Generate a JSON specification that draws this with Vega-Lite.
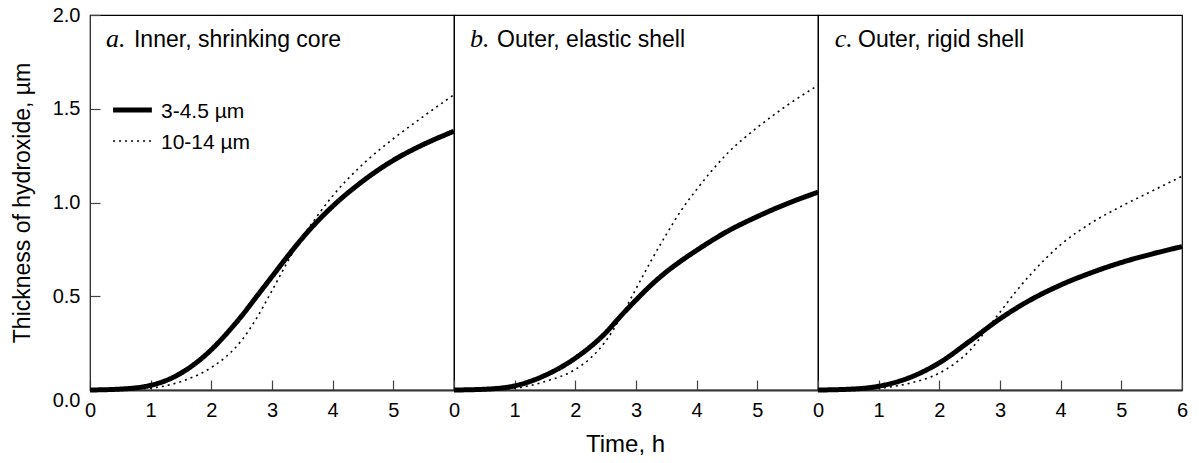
{
  "$schema": "https://vega.github.io/schema/vega-lite/v6.json",
  "padding": {"left": 10, "top": 4, "right": 10, "bottom": 5},
  "background": "white",
  "bounds": "flush",
  "spacing": 0,
  "config": {
    "view": {"stroke": "black", "strokeWidth": 1.2},
    "font": "Liberation Sans",
    "axis": {
      "grid": false,
      "labelFont": "Liberation Sans",
      "labelFontSize": 20,
      "labelColor": "black",
      "titleFont": "Liberation Sans",
      "titleFontSize": 23,
      "titleFontWeight": "normal",
      "titleColor": "black",
      "tickColor": "#444",
      "tickWidth": 1.2,
      "domainColor": "#333",
      "labelOverlap": false,
      "labelFlush": false
    }
  },
  "datasets": {
    "curves": [
      {"panel": "a", "size": "3-4.5 µm", "t": 0, "h": 0},
      {"panel": "a", "size": "3-4.5 µm", "t": 0.5, "h": 0.005},
      {"panel": "a", "size": "3-4.5 µm", "t": 1, "h": 0.025},
      {"panel": "a", "size": "3-4.5 µm", "t": 1.25, "h": 0.05},
      {"panel": "a", "size": "3-4.5 µm", "t": 1.5, "h": 0.09},
      {"panel": "a", "size": "3-4.5 µm", "t": 1.75, "h": 0.145},
      {"panel": "a", "size": "3-4.5 µm", "t": 2, "h": 0.215},
      {"panel": "a", "size": "3-4.5 µm", "t": 2.25, "h": 0.3},
      {"panel": "a", "size": "3-4.5 µm", "t": 2.5, "h": 0.395},
      {"panel": "a", "size": "3-4.5 µm", "t": 2.75, "h": 0.5},
      {"panel": "a", "size": "3-4.5 µm", "t": 3, "h": 0.605},
      {"panel": "a", "size": "3-4.5 µm", "t": 3.25, "h": 0.71},
      {"panel": "a", "size": "3-4.5 µm", "t": 3.5, "h": 0.81},
      {"panel": "a", "size": "3-4.5 µm", "t": 3.75, "h": 0.9},
      {"panel": "a", "size": "3-4.5 µm", "t": 4, "h": 0.98},
      {"panel": "a", "size": "3-4.5 µm", "t": 4.5, "h": 1.115},
      {"panel": "a", "size": "3-4.5 µm", "t": 5, "h": 1.225},
      {"panel": "a", "size": "3-4.5 µm", "t": 5.5, "h": 1.31},
      {"panel": "a", "size": "3-4.5 µm", "t": 6, "h": 1.38},
      {"panel": "a", "size": "10-14 µm", "t": 0, "h": 0},
      {"panel": "a", "size": "10-14 µm", "t": 0.5, "h": 0.002},
      {"panel": "a", "size": "10-14 µm", "t": 1, "h": 0.01},
      {"panel": "a", "size": "10-14 µm", "t": 1.5, "h": 0.045},
      {"panel": "a", "size": "10-14 µm", "t": 2, "h": 0.12},
      {"panel": "a", "size": "10-14 µm", "t": 2.25, "h": 0.18},
      {"panel": "a", "size": "10-14 µm", "t": 2.5, "h": 0.265},
      {"panel": "a", "size": "10-14 µm", "t": 2.75, "h": 0.385},
      {"panel": "a", "size": "10-14 µm", "t": 3, "h": 0.53},
      {"panel": "a", "size": "10-14 µm", "t": 3.25, "h": 0.68},
      {"panel": "a", "size": "10-14 µm", "t": 3.5, "h": 0.815},
      {"panel": "a", "size": "10-14 µm", "t": 3.75, "h": 0.93},
      {"panel": "a", "size": "10-14 µm", "t": 4, "h": 1.035},
      {"panel": "a", "size": "10-14 µm", "t": 4.5, "h": 1.205},
      {"panel": "a", "size": "10-14 µm", "t": 5, "h": 1.34},
      {"panel": "a", "size": "10-14 µm", "t": 5.5, "h": 1.46},
      {"panel": "a", "size": "10-14 µm", "t": 6, "h": 1.575},
      {"panel": "b", "size": "3-4.5 µm", "t": 0, "h": 0},
      {"panel": "b", "size": "3-4.5 µm", "t": 0.5, "h": 0.004},
      {"panel": "b", "size": "3-4.5 µm", "t": 1, "h": 0.022},
      {"panel": "b", "size": "3-4.5 µm", "t": 1.5, "h": 0.078},
      {"panel": "b", "size": "3-4.5 µm", "t": 2, "h": 0.17},
      {"panel": "b", "size": "3-4.5 µm", "t": 2.5, "h": 0.305},
      {"panel": "b", "size": "3-4.5 µm", "t": 2.75, "h": 0.395},
      {"panel": "b", "size": "3-4.5 µm", "t": 3, "h": 0.48},
      {"panel": "b", "size": "3-4.5 µm", "t": 3.25, "h": 0.56},
      {"panel": "b", "size": "3-4.5 µm", "t": 3.5, "h": 0.63},
      {"panel": "b", "size": "3-4.5 µm", "t": 3.75, "h": 0.69},
      {"panel": "b", "size": "3-4.5 µm", "t": 4, "h": 0.745},
      {"panel": "b", "size": "3-4.5 µm", "t": 4.5, "h": 0.845},
      {"panel": "b", "size": "3-4.5 µm", "t": 5, "h": 0.925},
      {"panel": "b", "size": "3-4.5 µm", "t": 5.5, "h": 0.995},
      {"panel": "b", "size": "3-4.5 µm", "t": 6, "h": 1.055},
      {"panel": "b", "size": "10-14 µm", "t": 0, "h": 0},
      {"panel": "b", "size": "10-14 µm", "t": 0.5, "h": 0.002},
      {"panel": "b", "size": "10-14 µm", "t": 1, "h": 0.01},
      {"panel": "b", "size": "10-14 µm", "t": 1.5, "h": 0.045},
      {"panel": "b", "size": "10-14 µm", "t": 2, "h": 0.11},
      {"panel": "b", "size": "10-14 µm", "t": 2.25, "h": 0.17},
      {"panel": "b", "size": "10-14 µm", "t": 2.5, "h": 0.26},
      {"panel": "b", "size": "10-14 µm", "t": 2.75, "h": 0.39},
      {"panel": "b", "size": "10-14 µm", "t": 3, "h": 0.54},
      {"panel": "b", "size": "10-14 µm", "t": 3.25, "h": 0.69},
      {"panel": "b", "size": "10-14 µm", "t": 3.5, "h": 0.83},
      {"panel": "b", "size": "10-14 µm", "t": 3.75, "h": 0.96},
      {"panel": "b", "size": "10-14 µm", "t": 4, "h": 1.07},
      {"panel": "b", "size": "10-14 µm", "t": 4.25, "h": 1.17},
      {"panel": "b", "size": "10-14 µm", "t": 4.5, "h": 1.26},
      {"panel": "b", "size": "10-14 µm", "t": 5, "h": 1.4},
      {"panel": "b", "size": "10-14 µm", "t": 5.5, "h": 1.52},
      {"panel": "b", "size": "10-14 µm", "t": 6, "h": 1.625},
      {"panel": "c", "size": "3-4.5 µm", "t": 0, "h": 0},
      {"panel": "c", "size": "3-4.5 µm", "t": 0.5, "h": 0.004},
      {"panel": "c", "size": "3-4.5 µm", "t": 1, "h": 0.02},
      {"panel": "c", "size": "3-4.5 µm", "t": 1.5, "h": 0.065},
      {"panel": "c", "size": "3-4.5 µm", "t": 2, "h": 0.145},
      {"panel": "c", "size": "3-4.5 µm", "t": 2.5, "h": 0.26},
      {"panel": "c", "size": "3-4.5 µm", "t": 3, "h": 0.38},
      {"panel": "c", "size": "3-4.5 µm", "t": 3.5, "h": 0.48},
      {"panel": "c", "size": "3-4.5 µm", "t": 4, "h": 0.56},
      {"panel": "c", "size": "3-4.5 µm", "t": 4.5, "h": 0.625},
      {"panel": "c", "size": "3-4.5 µm", "t": 5, "h": 0.68},
      {"panel": "c", "size": "3-4.5 µm", "t": 5.5, "h": 0.725},
      {"panel": "c", "size": "3-4.5 µm", "t": 6, "h": 0.765},
      {"panel": "c", "size": "10-14 µm", "t": 0, "h": 0},
      {"panel": "c", "size": "10-14 µm", "t": 0.5, "h": 0.002},
      {"panel": "c", "size": "10-14 µm", "t": 1, "h": 0.01},
      {"panel": "c", "size": "10-14 µm", "t": 1.5, "h": 0.035},
      {"panel": "c", "size": "10-14 µm", "t": 2, "h": 0.09},
      {"panel": "c", "size": "10-14 µm", "t": 2.25, "h": 0.14},
      {"panel": "c", "size": "10-14 µm", "t": 2.5, "h": 0.21},
      {"panel": "c", "size": "10-14 µm", "t": 2.75, "h": 0.31},
      {"panel": "c", "size": "10-14 µm", "t": 3, "h": 0.415},
      {"panel": "c", "size": "10-14 µm", "t": 3.25, "h": 0.52},
      {"panel": "c", "size": "10-14 µm", "t": 3.5, "h": 0.615},
      {"panel": "c", "size": "10-14 µm", "t": 3.75, "h": 0.7},
      {"panel": "c", "size": "10-14 µm", "t": 4, "h": 0.775},
      {"panel": "c", "size": "10-14 µm", "t": 4.5, "h": 0.89},
      {"panel": "c", "size": "10-14 µm", "t": 5, "h": 0.98},
      {"panel": "c", "size": "10-14 µm", "t": 5.5, "h": 1.06},
      {"panel": "c", "size": "10-14 µm", "t": 6, "h": 1.14}
    ],
    "legendA": [{"series": "3-4.5 µm"}],
    "legendB": [{"series": "10-14 µm"}],
    "titleA": [{"letter": "a.", "name": "Inner, shrinking core"}],
    "titleB": [{"letter": "b.", "name": "Outer, elastic shell"}],
    "titleC": [{"letter": "c.", "name": "Outer, rigid shell"}]
  },
  "hconcat": [
    {
      "width": 364,
      "height": 375,
      "layer": [
        {
          "data": {"name": "curves"},
          "transform": [{"filter": "datum.panel === 'a'"}],
          "mark": {"type": "line", "interpolate": "monotone", "color": "black"},
          "encoding": {
            "x": {"field": "t", "type": "quantitative", "scale": {"domain": [0, 6], "nice": false},
              "axis": {"values": [0, 1, 2, 3, 4, 5], "format": "d", "title": null, "tickSize": -10, "labelPadding": 20, "domainWidth": 2}},
            "y": {"field": "h", "type": "quantitative", "scale": {"domain": [0, 2], "nice": false},
              "axis": {"values": [0, 0.5, 1, 1.5, 2], "format": ".1f", "title": "Thickness of hydroxide, µm", "tickSize": -10, "labelPadding": 20, "titlePadding": 18,
                "labelBaseline": {"condition": {"test": "datum.value === 0", "value": "top"}, "value": "middle"}}},
            "detail": {"field": "size"},
            "strokeDash": {"field": "size", "type": "nominal", "scale": {"domain": ["3-4.5 µm", "10-14 µm"], "range": [[1, 0], [2, 4]]}, "legend": null},
            "strokeWidth": {"field": "size", "type": "nominal", "scale": {"domain": ["3-4.5 µm", "10-14 µm"], "range": [5, 1.6]}, "legend": null}
          }
        },
        {
          "data": {"name": "legendA"},
          "mark": {"type": "rule", "color": "black", "strokeWidth": 5},
          "encoding": {"x": {"datum": 0.38}, "x2": {"datum": 1.02}, "y": {"datum": 1.493}}
        },
        {
          "data": {"name": "legendA"},
          "mark": {"type": "text", "align": "left", "baseline": "middle", "fontSize": 21, "font": "Liberation Sans", "color": "black"},
          "encoding": {"x": {"datum": 1.17}, "y": {"datum": 1.485}, "text": {"field": "series"}}
        },
        {
          "data": {"name": "legendB"},
          "mark": {"type": "rule", "color": "black", "strokeWidth": 1.6, "strokeDash": [2, 4]},
          "encoding": {"x": {"datum": 0.38}, "x2": {"datum": 1.02}, "y": {"datum": 1.328}}
        },
        {
          "data": {"name": "legendB"},
          "mark": {"type": "text", "align": "left", "baseline": "middle", "fontSize": 21, "font": "Liberation Sans", "color": "black"},
          "encoding": {"x": {"datum": 1.17}, "y": {"datum": 1.32}, "text": {"field": "series"}}
        },
        {
          "data": {"name": "titleA"},
          "mark": {"type": "text", "align": "left", "baseline": "alphabetic", "fontSize": 26, "font": "Liberation Serif", "fontStyle": "italic", "color": "black"},
          "encoding": {"x": {"datum": 0.264}, "y": {"datum": 1.829}, "text": {"field": "letter"}}
        },
        {
          "data": {"name": "titleA"},
          "mark": {"type": "text", "align": "left", "baseline": "alphabetic", "fontSize": 23, "font": "Liberation Sans", "color": "black"},
          "encoding": {"x": {"datum": 0.725}, "y": {"datum": 1.829}, "text": {"field": "name"}}
        }
      ]
    },
    {
      "width": 364,
      "height": 375,
      "layer": [
        {
          "data": {"name": "curves"},
          "transform": [{"filter": "datum.panel === 'b'"}],
          "mark": {"type": "line", "interpolate": "monotone", "color": "black"},
          "encoding": {
            "x": {"field": "t", "type": "quantitative", "scale": {"domain": [0, 6], "nice": false},
              "axis": {"values": [0, 1, 2, 3, 4, 5], "format": "d", "title": "Time, h", "titleX": 171, "titleFontSize": 24, "titlePadding": 12, "tickSize": -10, "labelPadding": 20, "domainWidth": 2}},
            "y": {"field": "h", "type": "quantitative", "scale": {"domain": [0, 2], "nice": false}, "axis": null},
            "detail": {"field": "size"},
            "strokeDash": {"field": "size", "type": "nominal", "scale": {"domain": ["3-4.5 µm", "10-14 µm"], "range": [[1, 0], [2, 4]]}, "legend": null},
            "strokeWidth": {"field": "size", "type": "nominal", "scale": {"domain": ["3-4.5 µm", "10-14 µm"], "range": [5, 1.6]}, "legend": null}
          }
        },
        {
          "data": {"name": "titleB"},
          "mark": {"type": "text", "align": "left", "baseline": "alphabetic", "fontSize": 26, "font": "Liberation Serif", "fontStyle": "italic", "color": "black"},
          "encoding": {"x": {"datum": 0.264}, "y": {"datum": 1.829}, "text": {"field": "letter"}}
        },
        {
          "data": {"name": "titleB"},
          "mark": {"type": "text", "align": "left", "baseline": "alphabetic", "fontSize": 23, "font": "Liberation Sans", "color": "black"},
          "encoding": {"x": {"datum": 0.71}, "y": {"datum": 1.829}, "text": {"field": "name"}}
        }
      ]
    },
    {
      "width": 364,
      "height": 375,
      "layer": [
        {
          "data": {"name": "curves"},
          "transform": [{"filter": "datum.panel === 'c'"}],
          "mark": {"type": "line", "interpolate": "monotone", "color": "black"},
          "encoding": {
            "x": {"field": "t", "type": "quantitative", "scale": {"domain": [0, 6], "nice": false},
              "axis": {"values": [0, 1, 2, 3, 4, 5, 6], "format": "d", "title": null, "tickSize": -10, "labelPadding": 20, "domainWidth": 2}},
            "y": {"field": "h", "type": "quantitative", "scale": {"domain": [0, 2], "nice": false}, "axis": null},
            "detail": {"field": "size"},
            "strokeDash": {"field": "size", "type": "nominal", "scale": {"domain": ["3-4.5 µm", "10-14 µm"], "range": [[1, 0], [2, 4]]}, "legend": null},
            "strokeWidth": {"field": "size", "type": "nominal", "scale": {"domain": ["3-4.5 µm", "10-14 µm"], "range": [5, 1.6]}, "legend": null}
          }
        },
        {
          "data": {"name": "titleC"},
          "mark": {"type": "text", "align": "left", "baseline": "alphabetic", "fontSize": 26, "font": "Liberation Serif", "fontStyle": "italic", "color": "black"},
          "encoding": {"x": {"datum": 0.275}, "y": {"datum": 1.829}, "text": {"field": "letter"}}
        },
        {
          "data": {"name": "titleC"},
          "mark": {"type": "text", "align": "left", "baseline": "alphabetic", "fontSize": 23, "font": "Liberation Sans", "color": "black"},
          "encoding": {"x": {"datum": 0.66}, "y": {"datum": 1.829}, "text": {"field": "name"}}
        }
      ]
    }
  ]
}
